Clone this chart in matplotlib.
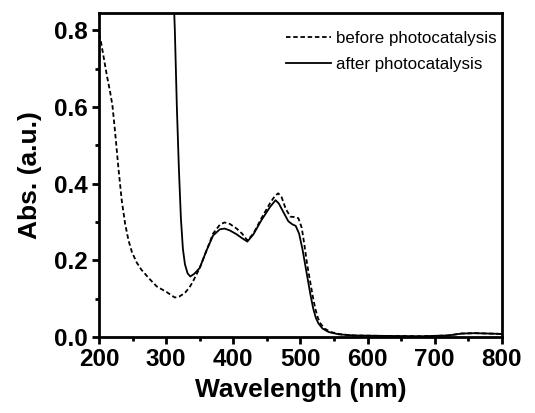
import numpy as np
import matplotlib
matplotlib.use("Agg")
import matplotlib.pyplot as plt
from matplotlib.ticker import MultipleLocator

plt.rcParams['font.family'] = ['Liberation Sans', 'DejaVu Sans']

# before photocatalysis (dashed)
wl_before = [200, 203, 208, 212, 216, 220, 224, 229, 234, 239, 244, 249, 256, 263, 275, 286,
             301, 313, 320, 328, 335, 340, 350, 360, 370, 380, 387, 395, 405, 413, 421, 430,
             442, 455, 462, 467, 472, 478, 485, 492, 497, 502, 506, 510, 514, 518, 522, 526,
             530, 536, 545, 560, 580, 620, 680, 720, 740, 760, 780, 800]
abs_before = [0.79, 0.77, 0.72, 0.68, 0.645, 0.605, 0.535, 0.44, 0.355, 0.295, 0.252, 0.222, 0.195, 0.176, 0.152, 0.132,
              0.117, 0.103, 0.106, 0.115, 0.13, 0.145, 0.18, 0.225, 0.27, 0.293, 0.299, 0.295, 0.283, 0.27, 0.252, 0.27,
              0.31, 0.35, 0.368, 0.375, 0.365, 0.335, 0.314, 0.313, 0.31, 0.285, 0.24, 0.19, 0.15, 0.11, 0.075, 0.05,
              0.035, 0.022, 0.013, 0.007, 0.004, 0.003, 0.002, 0.004, 0.009, 0.010, 0.009, 0.008]

# after photocatalysis (solid)
wl_after = [310, 313, 316, 319, 322, 325, 328, 332, 336, 342, 350, 360, 370, 380, 387, 395, 405, 413,
            421, 430, 442, 455, 463, 468, 474, 482, 488, 493, 498, 503, 507, 511, 515, 519, 523, 527,
            533, 542, 557, 580, 620, 680, 720, 740, 760, 780, 800]
abs_after = [0.95, 0.80, 0.6, 0.44, 0.31, 0.23, 0.19, 0.166, 0.158, 0.165, 0.18, 0.225, 0.265, 0.281, 0.283, 0.278, 0.268, 0.258,
             0.249, 0.268, 0.305, 0.34, 0.357, 0.348, 0.328, 0.302, 0.294, 0.29, 0.27, 0.23, 0.19, 0.15, 0.11, 0.075, 0.05, 0.035,
             0.022, 0.013, 0.007, 0.004, 0.003, 0.002, 0.004, 0.009, 0.010, 0.009, 0.008]

fig = plt.figure(figsize=(5.35, 4.13), dpi=100)
ax = fig.add_axes([0.185, 0.184, 0.753, 0.785])

ax.plot(wl_before, abs_before, color='black', linestyle=(0, (2.5, 1.5)), linewidth=1.3, label='before photocatalysis')
ax.plot(wl_after, abs_after, color='black', linestyle='-', linewidth=1.3, label='after photocatalysis')

ax.set_xlim(200, 800)
ax.set_ylim(0, 0.846)
ax.xaxis.set_major_locator(MultipleLocator(100))
ax.xaxis.set_minor_locator(MultipleLocator(50))
ax.yaxis.set_major_locator(MultipleLocator(0.2))
ax.yaxis.set_minor_locator(MultipleLocator(0.1))

for s in ax.spines.values():
    s.set_linewidth(2)
ax.tick_params(which='major', direction='out', length=5, width=2, labelsize=17.5, pad=3)
ax.tick_params(which='minor', direction='out', length=3, width=2)
for lbl in ax.get_xticklabels() + ax.get_yticklabels():
    lbl.set_fontweight('bold')

ax.set_xlabel('Wavelength (nm)', fontsize=19, fontweight='bold', labelpad=5)
ax.set_ylabel('Abs. (a.u.)', fontsize=19, fontweight='bold', labelpad=9)

leg = ax.legend(loc='upper right', bbox_to_anchor=(1.005, 0.966), frameon=False, fontsize=12.2,
                handlelength=2.7, handletextpad=0.3, labelspacing=0.65, borderaxespad=0)

plt.savefig('out.png', dpi=100)
plt.close()
